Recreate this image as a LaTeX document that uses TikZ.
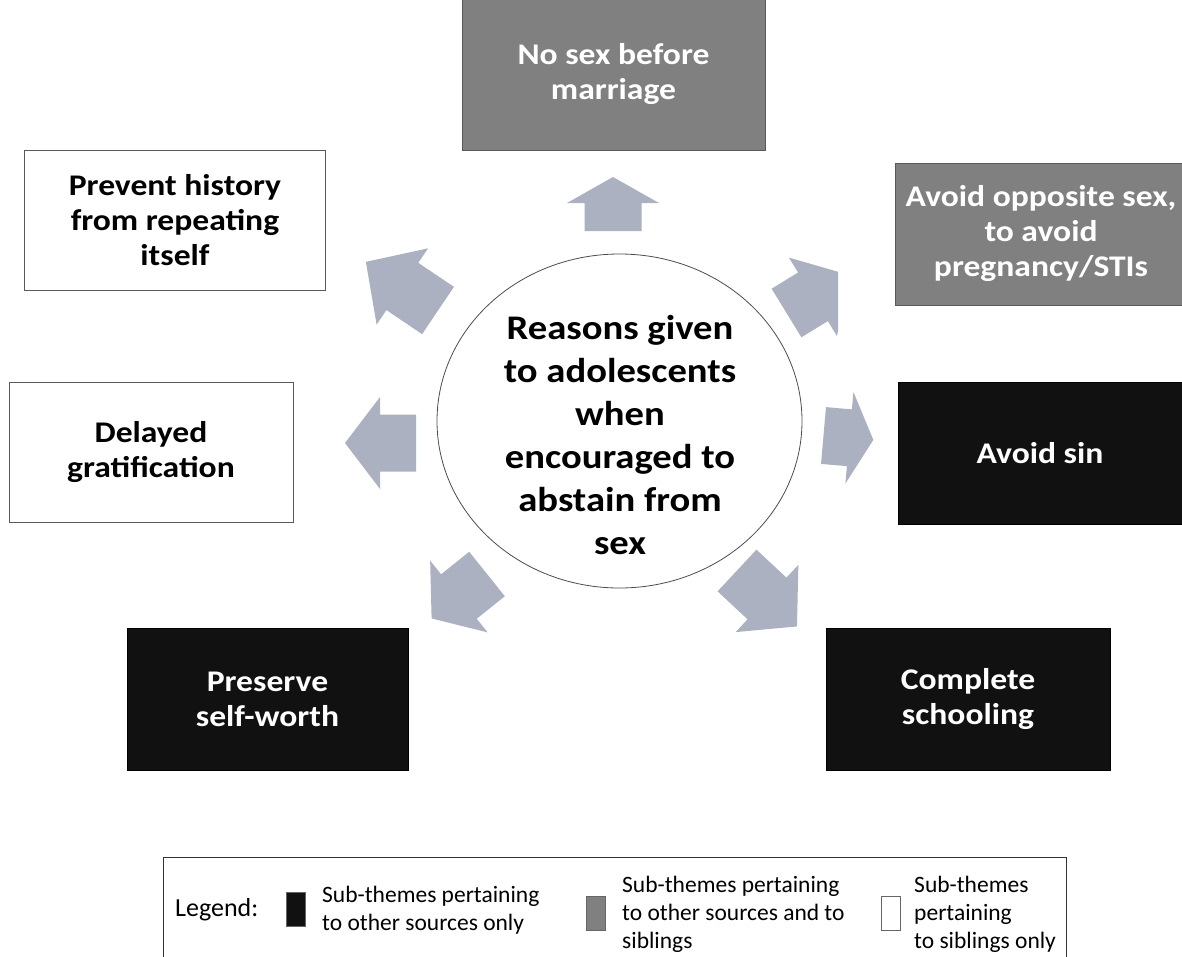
\documentclass[tikz,border=0pt]{standalone}
\usepackage{fontspec}
\setmainfont{Carlito}
\newfontfamily\widefont{Carlito}[FakeStretch=1.12]
\usetikzlibrary{shapes.geometric}

\definecolor{arrowgray}{RGB}{171,177,193}
\definecolor{midgray}{RGB}{128,128,128}
\definecolor{nearblack}{RGB}{17,17,17}

\tikzset{
  theme/.style={rectangle, draw, thin, align=center, inner sep=0pt,
    font=\widefont\bfseries\fontsize{30}{35}\selectfont},
  othersrc/.style={theme, fill=nearblack, draw=black, text=white},
  bothsrc/.style={theme, fill=midgray, draw=black!65, text=white},
  sibsrc/.style={theme, fill=white, draw=black!65, text=black},
  swatch/.style={rectangle, minimum width=19pt, minimum height=34pt, inner sep=0pt, draw=black!60},
  legtext/.style={align=left, anchor=west, inner sep=0pt, font=\fontsize{23.5}{28}\selectfont},
}

% tail centre, angle, shaft length, head length
\newcommand{\blockarrow}[4]{%
  \fill[arrowgray, shift={#1}, rotate=#2]
    (0,-28.5) -- (#3,-28.5) -- (#3,-46) -- ({#3+#4},0) -- (#3,46) -- (#3,28.5) -- (0,28.5) -- cycle;
}

\begin{document}
\begin{tikzpicture}[x=1pt, y=-1pt]
    \useasboundingbox (0,0) rectangle (1182,956);
    \clip (0,0) rectangle (1182,956);

    \node[ellipse, draw=black!70, line width=0.8pt, minimum width=365pt, minimum height=334pt, inner sep=0pt] (hub) at (619.5,421) {};
    \node[align=center, font=\widefont\bfseries\fontsize{34.5}{43}\selectfont] (hubtext) at (620,435)
      {Reasons given\\to adolescents\\when\\encouraged to\\abstain from\\sex};

    \node[bothsrc, minimum width=303pt, minimum height=152pt] (nosex) at (613.5,74) {No sex before\\marriage};
    \node[bothsrc, minimum width=292pt, minimum height=142pt] (opposite) at (1041,234) {Avoid opposite sex,\\to avoid\\pregnancy/STIs};
    \node[othersrc, minimum width=284pt, minimum height=142pt] (sin) at (1040,453) {Avoid sin};
    \node[othersrc, minimum width=284pt, minimum height=142pt] (schooling) at (968,699) {Complete\\schooling};
    \node[othersrc, minimum width=281pt, minimum height=142pt] (selfworth) at (267.5,699) {Preserve\\self-worth};
    \node[sibsrc, minimum width=284pt, minimum height=140pt] (delayed) at (151,452) {Delayed\\gratification};
    \node[sibsrc, minimum width=301pt, minimum height=140pt] (history) at (175,220) {Prevent history\\from repeating\\itself};

    \blockarrow{(613,231)}{90}{28}{26}
    \blockarrow{(438,310.5)}{146}{43}{44}
    \begin{scope}
      \clip (0,0) rectangle (838,956);
      \blockarrow{(786.5,313)}{31.5}{31}{42}
    \end{scope}
    \blockarrow{(416,443)}{180}{36}{35}
    \blockarrow{(823.5,435.5)}{-5}{26}{24}
    \blockarrow{(487,574)}{218.7}{36}{35}
    \blockarrow{(737,570.5)}{-43}{41}{41}

    \node[draw=black!80, line width=1pt, anchor=north west, minimum width=903pt, minimum height=120pt] (legend) at (163,857) {};
    \node[legtext, font=\fontsize{26}{30}\selectfont] (legendlabel) at (175,910) {Legend:};
    \node[swatch, fill=nearblack] (swblack) at (296,909) {};
    \node[legtext] (legblack) at (322,910) {Sub-themes pertaining\\to other sources only};
    \node[swatch, fill=midgray] (swgray) at (596,913) {};
    \node[legtext] (leggray) at (622,914) {Sub-themes pertaining\\to other sources and to\\siblings};
    \node[swatch, fill=white] (swwhite) at (891,913) {};
    \node[legtext] (legwhite) at (914,914) {Sub-themes\\pertaining\\to siblings only};
\end{tikzpicture}
\end{document}
